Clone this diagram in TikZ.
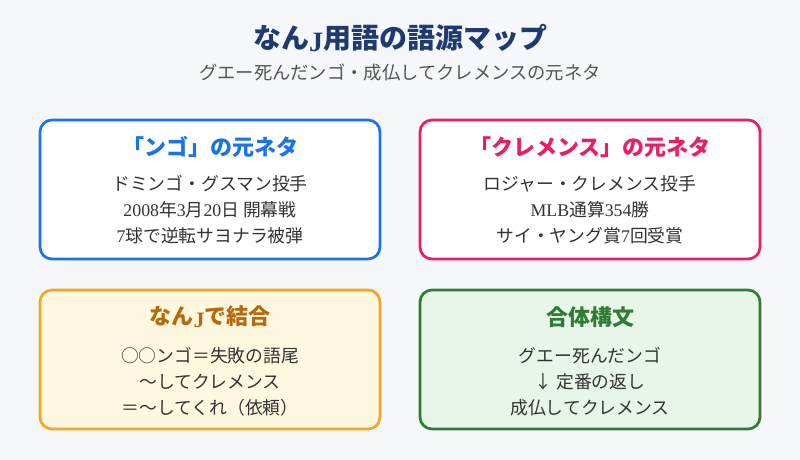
\documentclass[tikz,border=0pt]{standalone}
\usepackage{fontspec}
\usepackage{xcolor}
\setmainfont{Noto Sans CJK JP}
\newfontfamily\latfont{Liberation Serif}
\newcommand{\lat}[1]{{\latfont #1}}

\definecolor{bgpale}{HTML}{F5F7FB}
\definecolor{navy}{HTML}{1E3A6E}
\definecolor{subgray}{HTML}{555555}
\definecolor{bodygray}{HTML}{333333}
\definecolor{ngoblue}{HTML}{1A73E8}
\definecolor{clpink}{HTML}{E91E63}
\definecolor{nanjorange}{HTML}{F5A623}
\definecolor{nanjfill}{HTML}{FFF8E1}
\definecolor{nanjtext}{HTML}{B8690A}
\definecolor{gattaigreen}{HTML}{2E7D32}
\definecolor{gattaifill}{HTML}{E8F5E9}

\begin{document}
\begin{tikzpicture}[x=1pt,y=-1pt,
  card/.style={draw, line width=2.7pt, rounded corners=12pt, minimum width=340pt, minimum height=139pt},
  cardtitle/.style={font=\fontsize{22}{26}\selectfont\bfseries},
  cardbody/.style={font=\fontsize{17.8}{26}\selectfont, text=bodygray, align=center}]
\fill[bgpale] (0,0) rectangle (800,460);
\useasboundingbox (0,0) rectangle (800,460);

\node[font=\fontsize{28}{31}\selectfont\bfseries, text=navy] (title) at (400,38)
  {なん\raisebox{-0.12em}{\lat{\bfseries J}}用語の語源マップ};
\node[font=\fontsize{18.3}{21}\selectfont, text=subgray] (subtitle) at (400,72)
  {グエー死んだンゴ・成仏してクレメンスの元ネタ};

% top row
\node[card, draw=ngoblue, fill=white] (ngo) at (210,189.5) {};
\node[cardtitle, text=ngoblue] (ngotitle) at (210,147) {「ンゴ」の元ネタ};
\node[cardbody] (ngobody) at (210,210)
  {ドミンゴ・グスマン投手\\ \lat{2008}年\lat{3}月\lat{20}日 開幕戦\\ \lat{7}球で逆転サヨナラ被弾};

\node[card, draw=clpink, fill=white] (clemens) at (590,189.5) {};
\node[cardtitle, text=clpink] (clemenstitle) at (590,147) {「クレメンス」の元ネタ};
\node[cardbody] (clemensbody) at (590,210)
  {ロジャー・クレメンス投手\\ \lat{MLB}通算\lat{354}勝\\ サイ・ヤング賞\lat{7}回受賞};

% bottom row
\node[card, draw=nanjorange, fill=nanjfill] (nanj) at (210,359.5) {};
\node[cardtitle, text=nanjtext] (nanjtitle) at (210,317)
  {なん\raisebox{-0.12em}{\lat{\bfseries J}}で結合};
\node[cardbody] (nanjbody) at (210,381.5)
  {○○ンゴ＝失敗の語尾\\ 〜してクレメンス\\ ＝〜してくれ（依頼）};

\node[card, draw=gattaigreen, fill=gattaifill] (gattai) at (590,359.5) {};
\node[cardtitle, text=gattaigreen] (gattaititle) at (590,317) {合体構文};
\node[cardbody] (gattaibody) at (590,381.5)
  {グエー死んだンゴ\\ ↓ 定番の返し\\ 成仏してクレメンス};
\end{tikzpicture}
\end{document}
